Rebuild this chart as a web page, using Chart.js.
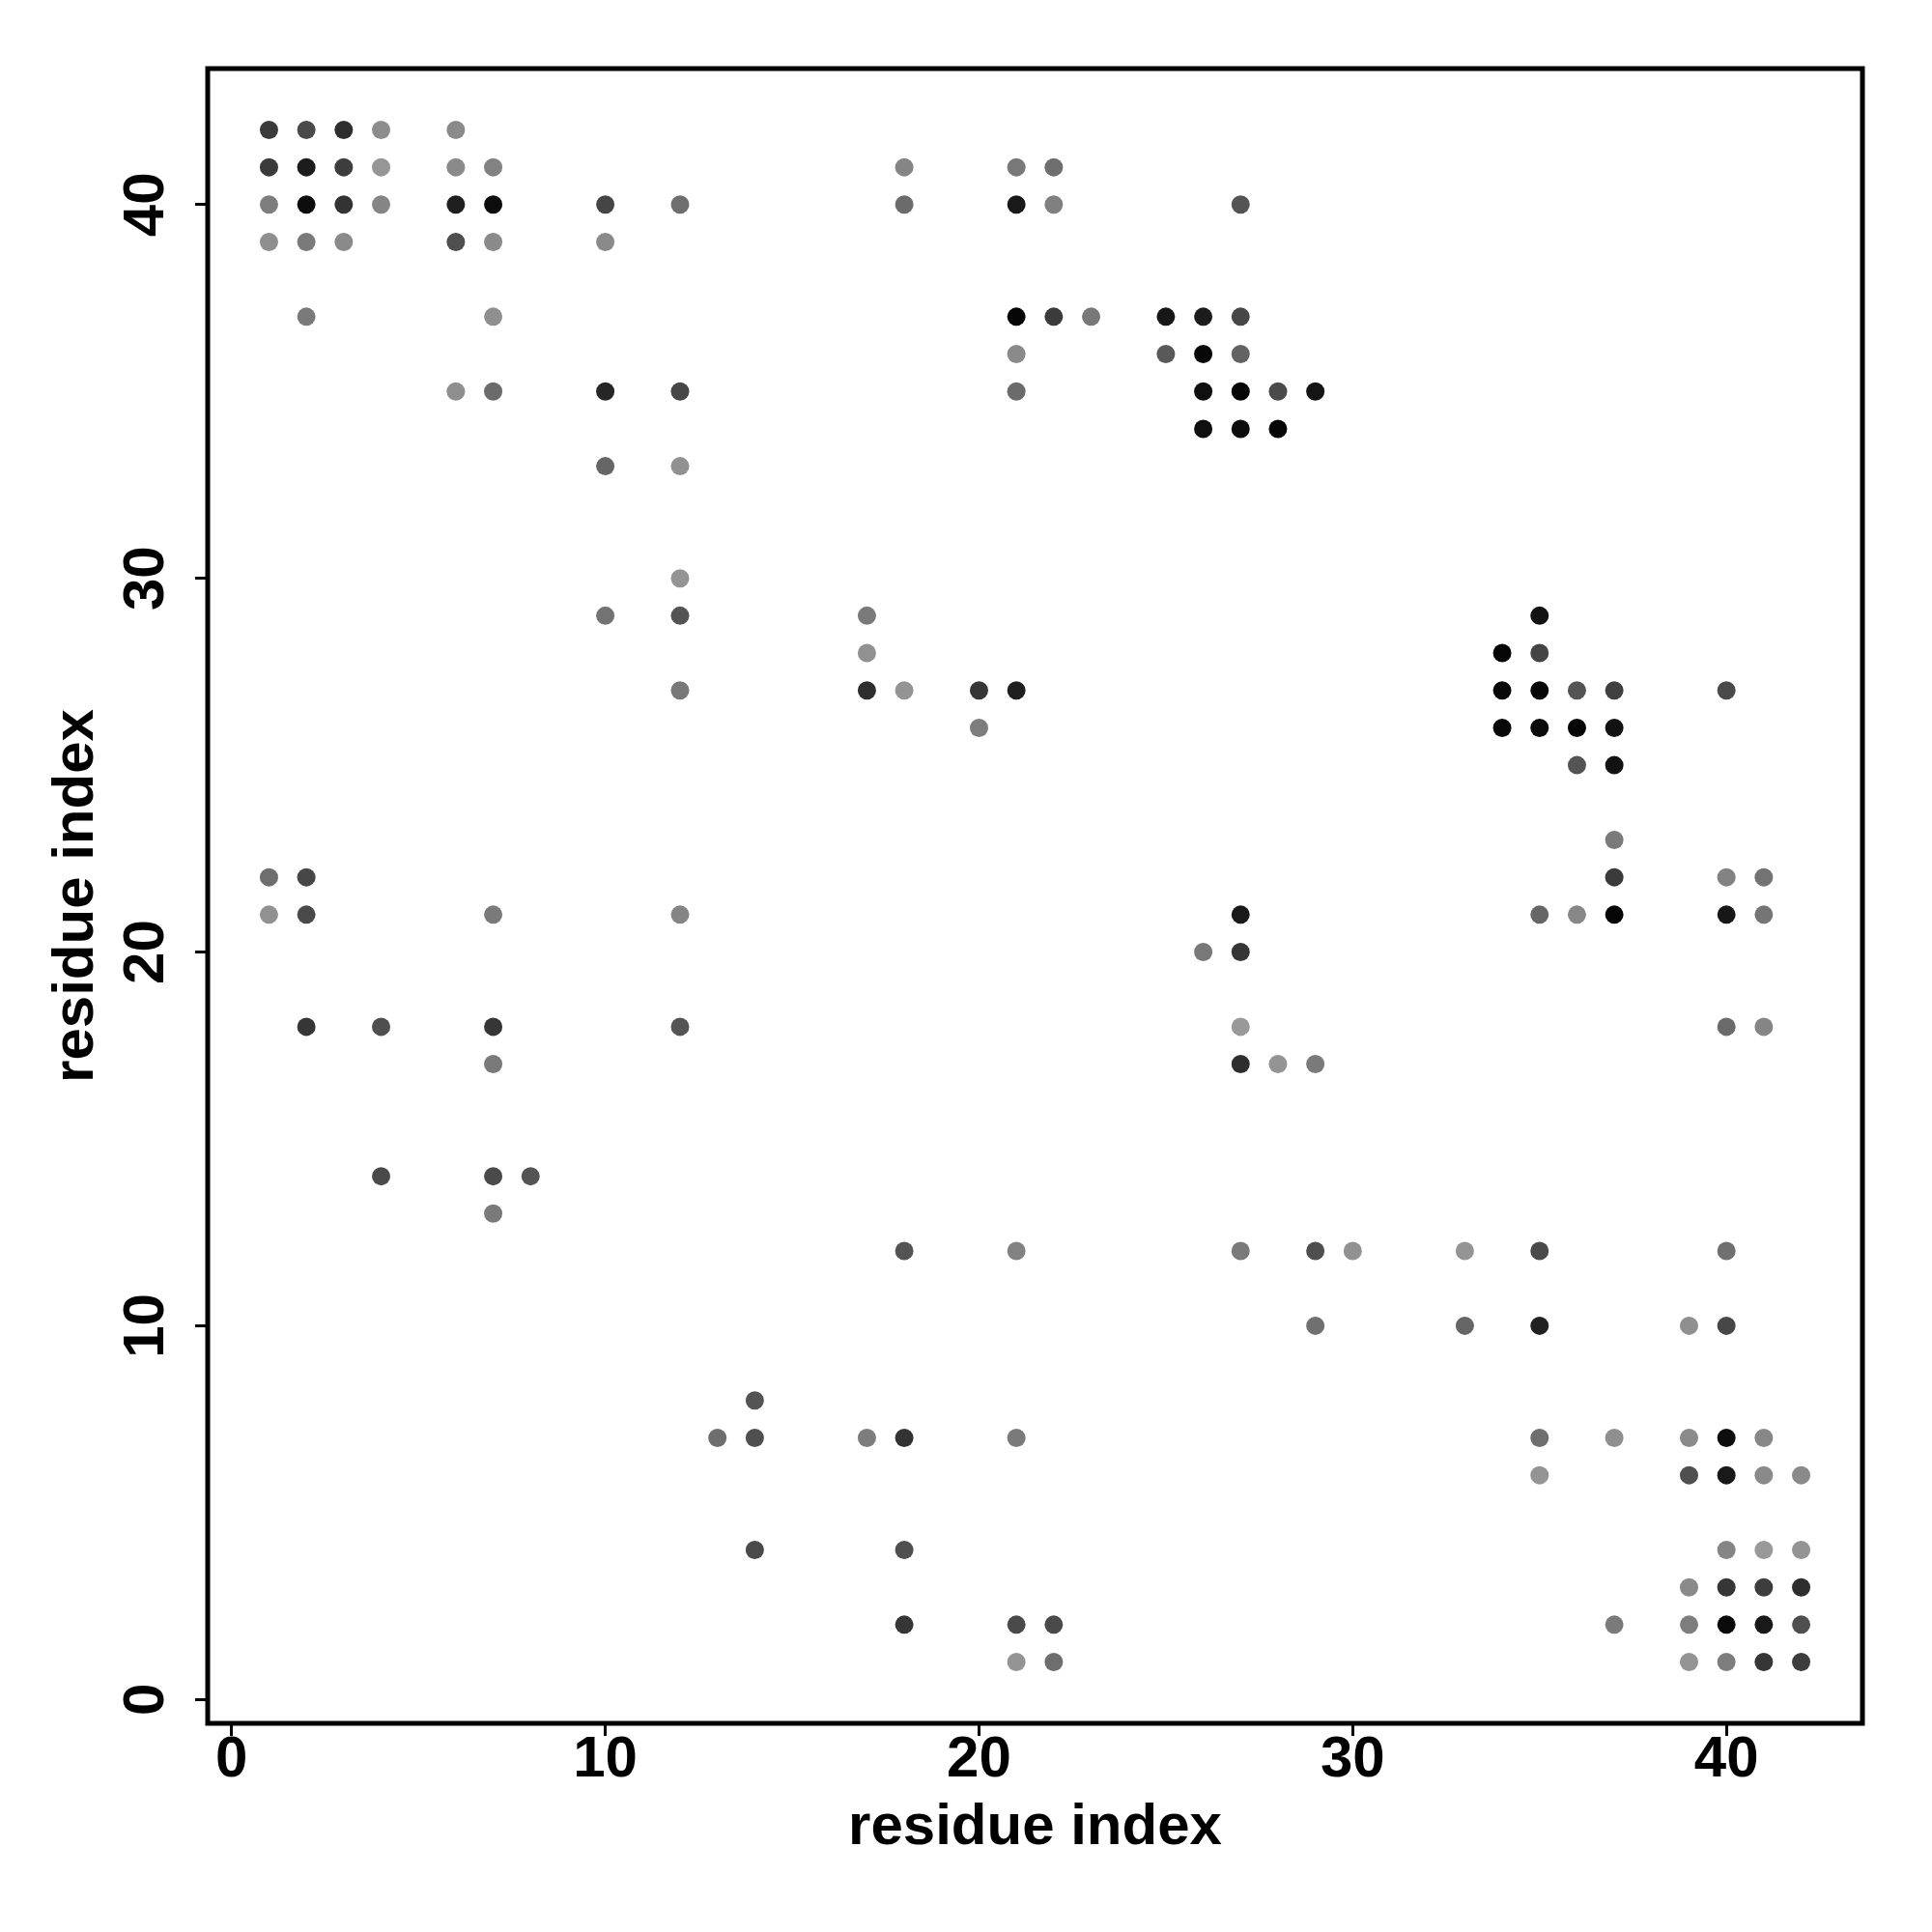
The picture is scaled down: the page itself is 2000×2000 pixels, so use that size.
<!DOCTYPE html>
<html>
<head>
<meta charset="utf-8">
<script src="https://cdn.jsdelivr.net/npm/chart.js@4/dist/chart.umd.min.js"></script>
<style>
  html, body { margin: 0; padding: 0; background: #ffffff; }
  #wrap { width: 2000px; height: 2000px; }
</style>
</head>
<body>
<div id="wrap"><canvas id="contactMap" width="2000" height="2000"></canvas></div>
<script>
// contact rows: residue j (y) and the residues i (x) in contact, with a contact score
const rowJ = [42, 41, 40, 39, 37, 36, 35, 34, 33, 30, 29, 28, 27, 26, 25, 23,
              22, 21, 20, 18, 17, 14, 13, 12, 10, 8, 7, 6, 4, 3, 2, 1];

const rowI = [
  [1, 2, 3, 4, 6],
  [1, 2, 3, 4, 6, 7, 18, 21, 22],
  [1, 2, 3, 4, 6, 7, 10, 12, 18, 21, 22, 27],
  [1, 2, 3, 6, 7, 10],
  [2, 7, 21, 22, 23, 25, 26, 27],
  [21, 25, 26, 27],
  [6, 7, 10, 12, 21, 26, 27, 28, 29],
  [26, 27, 28],
  [10, 12],
  [12],
  [10, 12, 17, 35],
  [17, 34, 35],
  [12, 17, 18, 20, 21, 34, 35, 36, 37, 40],
  [20, 34, 35, 36, 37],
  [36, 37],
  [37],
  [1, 2, 37, 40, 41],
  [1, 2, 7, 12, 27, 35, 36, 37, 40, 41],
  [26, 27],
  [2, 4, 7, 12, 27, 40, 41],
  [7, 27, 28, 29],
  [4, 7, 8],
  [7],
  [18, 21, 27, 29, 30, 33, 35, 40],
  [29, 33, 35, 39, 40],
  [14],
  [13, 14, 17, 18, 21, 35, 37, 39, 40, 41],
  [35, 39, 40, 41, 42],
  [14, 18, 40, 41, 42],
  [39, 40, 41, 42],
  [18, 21, 22, 37, 39, 40, 41, 42],
  [21, 22, 39, 40, 41, 42]
];

const rowScore = [
  [0.77, 0.71, 0.82, 0.45, 0.46],
  [0.77, 0.89, 0.76, 0.41, 0.46, 0.49, 0.48, 0.53, 0.57],
  [0.51, 0.95, 0.80, 0.48, 0.88, 0.95, 0.73, 0.57, 0.58, 0.90, 0.50, 0.67],
  [0.44, 0.52, 0.46, 0.69, 0.46, 0.46],
  [0.52, 0.44, 0.98, 0.77, 0.53, 0.91, 0.89, 0.72],
  [0.46, 0.65, 0.97, 0.61],
  [0.44, 0.58, 0.85, 0.72, 0.58, 0.94, 0.98, 0.71, 0.92],
  [0.94, 0.95, 0.98],
  [0.60, 0.43],
  [0.42],
  [0.55, 0.67, 0.52, 0.93],
  [0.43, 0.98, 0.73],
  [0.53, 0.82, 0.42, 0.79, 0.88, 0.97, 0.98, 0.67, 0.75, 0.71],
  [0.51, 0.97, 0.96, 0.98, 0.93],
  [0.67, 0.93],
  [0.52],
  [0.57, 0.72, 0.77, 0.49, 0.55],
  [0.43, 0.71, 0.52, 0.48, 0.90, 0.60, 0.47, 0.98, 0.91, 0.54],
  [0.53, 0.79],
  [0.79, 0.69, 0.79, 0.67, 0.40, 0.58, 0.48],
  [0.52, 0.82, 0.42, 0.52],
  [0.71, 0.71, 0.67],
  [0.52],
  [0.67, 0.49, 0.52, 0.69, 0.43, 0.42, 0.71, 0.56],
  [0.56, 0.60, 0.87, 0.44, 0.72],
  [0.67],
  [0.57, 0.69, 0.51, 0.80, 0.52, 0.57, 0.44, 0.46, 0.95, 0.47],
  [0.42, 0.69, 0.90, 0.46, 0.46],
  [0.71, 0.69, 0.48, 0.40, 0.42],
  [0.46, 0.79, 0.76, 0.82],
  [0.79, 0.71, 0.71, 0.52, 0.51, 0.96, 0.90, 0.69],
  [0.42, 0.57, 0.42, 0.51, 0.79, 0.76]
];

const xTicks = [0, 10, 20, 30, 40];
const yTicks = [0, 10, 20, 30, 40];
const axisTitle = "residue index";

// flatten the rows into points
const points = [];
const scores = [];
rowJ.forEach((j, r) => {
  rowI[r].forEach((i, k) => {
    points.push({ x: i, y: j });
    scores.push(rowScore[r][k]);
  });
});

// higher score -> darker grey
function greyFor(s) {
  const g = Math.round(255 * (1 - s));
  return `rgb(${g},${g},${g})`;
}

const boxPlugin = {
  id: "boxFrame",
  afterDraw(chart) {
    const { ctx, chartArea } = chart;
    ctx.save();
    ctx.strokeStyle = "#000";
    ctx.lineWidth = 5;
    ctx.strokeRect(chartArea.left, chartArea.top,
      chartArea.right - chartArea.left, chartArea.bottom - chartArea.top);
    ctx.restore();
  }
};

const tickFont = { family: "'Liberation Sans', Arial, sans-serif", size: 60, weight: "bold", lineHeight: 1 };

new Chart(document.getElementById("contactMap"), {
  type: "scatter",
  data: {
    datasets: [{
      data: points,
      pointRadius: 9.5,
      pointHoverRadius: 9.5,
      borderWidth: 0,
      backgroundColor: (c) => greyFor(scores[c.dataIndex] || 0)
    }]
  },
  options: {
    responsive: false,
    animation: false,
    layout: { padding: { top: 71, right: 72, left: 0, bottom: 0 } },
    plugins: { legend: { display: false }, tooltip: { enabled: false } },
    scales: {
      x: {
        type: "linear",
        min: -0.64,
        max: 43.64,
        afterBuildTicks: (s) => { s.ticks = xTicks.map((v) => ({ value: v })); },
        afterFit: (s) => { s.height = 216; },
        grid: { drawOnChartArea: false, drawTicks: true, tickLength: 13, tickWidth: 3, tickColor: "#000" },
        border: { display: false },
        ticks: { color: "#000", font: tickFont, padding: -5, maxRotation: 0 },
        title: { display: true, text: axisTitle, color: "#000", font: tickFont, padding: { top: 0, bottom: 78 } }
      },
      y: {
        type: "linear",
        min: -0.64,
        max: 43.64,
        afterBuildTicks: (s) => { s.ticks = yTicks.map((v) => ({ value: v })); },
        afterFit: (s) => { s.width = 215; },
        grid: { drawOnChartArea: false, drawTicks: true, tickLength: 13, tickWidth: 3, tickColor: "#000" },
        border: { display: false },
        ticks: { color: "#000", font: tickFont, padding: 16, minRotation: 90, maxRotation: 90, crossAlign: "center" },
        title: { display: true, text: axisTitle, color: "#000", font: tickFont, padding: { top: 49, bottom: 0 } }
      }
    }
  },
  plugins: [boxPlugin]
});
</script>
</body>
</html>
